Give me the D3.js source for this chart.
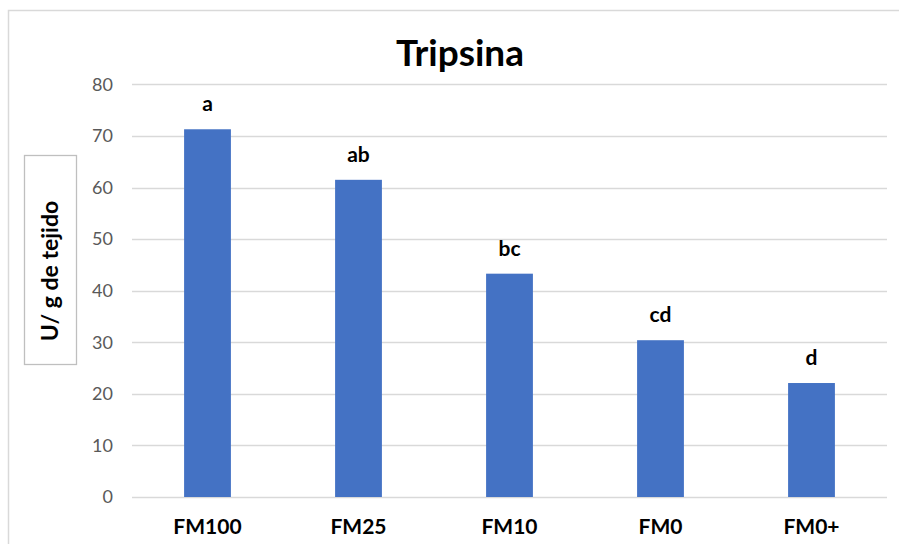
<!DOCTYPE html>
<html>
<head>
<meta charset="utf-8">
<script src="https://cdn.jsdelivr.net/npm/d3@7"></script>
<style>
  html, body { margin: 0; padding: 0; background: #fff; }
  svg { display: block; }
  text { font-family: Lato, "Open Sans", sans-serif; }
</style>
</head>
<body>
<div id="chart"></div>
<script>
// Tripsin activity per treatment, with significance letters
const categories = ["FM100", "FM25", "FM10", "FM0", "FM0+"];
const values = [71.3, 61.5, 43.3, 30.4, 22.1];
const letters = ["a", "ab", "bc", "cd", "d"];
const yTicks = [0, 10, 20, 30, 40, 50, 60, 70, 80];

const W = 899, H = 544;
const svg = d3.select("#chart").append("svg")
  .attr("width", W).attr("height", H);

// outer chart frame (runs past the right and bottom edges)
svg.append("rect")
  .attr("x", 8.5).attr("y", 10.5)
  .attr("width", 920).attr("height", 560)
  .attr("fill", "#fff").attr("stroke", "#d9d9d9").attr("stroke-width", 1.5);

const x = d3.scaleBand().domain(categories)
  .range([132, 887]).paddingInner(0.69).paddingOuter(0.345);
const y = d3.scaleLinear().domain([0, 80]).range([497, 84.4]);

// gridlines
svg.append("g").selectAll("line").data(yTicks).join("line")
  .attr("x1", 132).attr("x2", 887)
  .attr("y1", d => Math.round(y(d)) + 0.5).attr("y2", d => Math.round(y(d)) + 0.5)
  .attr("stroke", "#d9d9d9").attr("stroke-width", 1.3);

// y tick labels
const yAxis = d3.axisLeft(y).tickValues(yTicks).tickSize(0).tickPadding(0);
const gy = svg.append("g").attr("transform", "translate(113,0)").call(yAxis);
gy.select(".domain").remove();
gy.selectAll("text")
  .attr("fill", "#595959").attr("font-size", 18)
  .style("font-family", "Lato, 'Open Sans', sans-serif");

// bars
svg.append("g").selectAll("rect").data(values).join("rect")
  .attr("x", (d, i) => x(categories[i]))
  .attr("y", d => y(d))
  .attr("width", x.bandwidth())
  .attr("height", d => y(0) - y(d))
  .attr("fill", "#4472c4");

// significance letters
svg.append("g").selectAll("text").data(values).join("text")
  .attr("x", (d, i) => x(categories[i]) + x.bandwidth() / 2)
  .attr("y", d => y(d) - 18)
  .attr("text-anchor", "middle")
  .attr("font-size", 21).attr("font-weight", "bold").attr("fill", "#000")
  .text((d, i) => letters[i]);

// category labels
const xAxis = d3.axisBottom(x).tickSize(0).tickPadding(0);
const gx = svg.append("g").attr("transform", "translate(0,534)").call(xAxis);
gx.select(".domain").remove();
gx.selectAll("text")
  .attr("dy", 0).attr("y", 0)
  .attr("fill", "#000").attr("font-size", 21).attr("font-weight", "bold")
  .style("font-family", "Lato, 'Open Sans', sans-serif");

// title
svg.append("text")
  .attr("x", 460).attr("y", 66)
  .attr("text-anchor", "middle")
  .attr("font-size", 37).attr("font-weight", "bold").attr("fill", "#000")
  .text("Tripsina");

// y-axis title in a box
svg.append("rect")
  .attr("x", 24.5).attr("y", 155.5).attr("width", 52).attr("height", 209)
  .attr("fill", "#fff").attr("stroke", "#bfbfbf").attr("stroke-width", 1.3);
svg.append("text")
  .attr("transform", "translate(58,271) rotate(-90)")
  .attr("text-anchor", "middle")
  .attr("font-size", 23).attr("font-weight", "bold").attr("fill", "#000")
  .text("U/ g de tejido");
</script>
</body>
</html>
